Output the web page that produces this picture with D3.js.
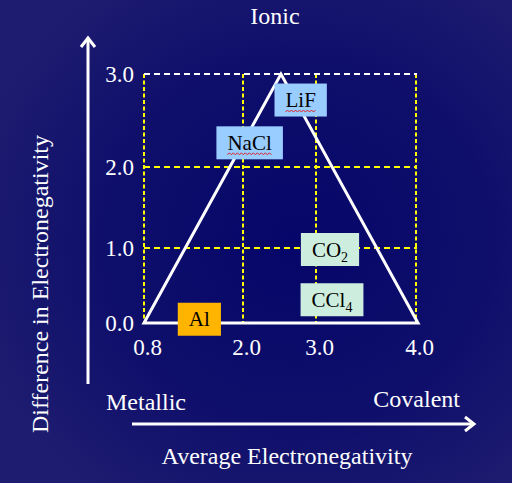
<!DOCTYPE html>
<html>
<head>
<meta charset="utf-8">
<script src="https://cdn.jsdelivr.net/npm/d3@7/dist/d3.min.js"></script>
<style>
  body { margin: 0; background: #10106c; }
  svg { display: block; }
</style>
</head>
<body>
<svg id="chart"></svg>
<script>
// tick values on both axes
const xTicks = [0.8, 2.0, 3.0, 4.0];
const yTicks = [0.0, 1.0, 2.0, 3.0];

// bond triangle corners (avg EN, delta EN)
const triangleX = [0.8, 2.52, 4.02];
const triangleY = [0.0, 3.0, 0.0];

// compounds placed in the triangle
const compoundNames = ['LiF', 'NaCl', 'CO', 'CCl', 'Al'];
const compoundSubs = ['', '', '2', '4', ''];
const compoundX = [2.79, 2.09, 3.14, 3.16, 1.47];
const compoundY = [2.72, 2.26, 0.98, 0.31, 0.05];
const compoundType = ['ionic', 'ionic', 'covalent', 'covalent', 'metallic'];
const misspelled = ['LiF', 'NaCl'];

const width = 512;
const height = 483;
const font = "'Liberation Serif', 'Times New Roman', serif";

const svg = d3.select('#chart')
  .attr('width', width)
  .attr('height', height);

// background
const defs = svg.append('defs');
const grad = defs.append('radialGradient')
  .attr('id', 'bg')
  .attr('cx', '58%')
  .attr('cy', '50%')
  .attr('r', '65%');
grad.append('stop').attr('offset', '0%').attr('stop-color', '#06066a');
grad.append('stop').attr('offset', '55%').attr('stop-color', '#0e0e6b');
grad.append('stop').attr('offset', '100%').attr('stop-color', '#1d1c70');
svg.append('rect')
  .attr('width', width)
  .attr('height', height)
  .attr('fill', 'url(#bg)');

// the grid is unevenly spaced in the slide, so piecewise scales
const xScale = d3.scaleLinear()
  .domain(xTicks)
  .range([144, 243, 316, 416]);
const yScale = d3.scaleLinear()
  .domain(yTicks)
  .range([323, 248, 167, 74]);

const color = d3.scaleOrdinal()
  .domain(['ionic', 'covalent', 'metallic'])
  .range(['#99ccff', '#cdeede', '#ffb400']);

const grid = svg.append('g');

grid.selectAll('.vgrid')
  .data(xTicks)
  .enter().append('line')
  .attr('class', 'vgrid')
  .attr('x1', d => xScale(d))
  .attr('x2', d => xScale(d))
  .attr('y1', yScale(3))
  .attr('y2', yScale(0))
  .attr('stroke', '#ffff00')
  .attr('stroke-width', 2)
  .attr('stroke-dasharray', '4,2.5');

grid.selectAll('.hgrid')
  .data(yTicks.filter(d => d > 0))
  .enter().append('line')
  .attr('class', 'hgrid')
  .attr('x1', xScale(0.8))
  .attr('x2', xScale(4.0) + 1)
  .attr('y1', d => yScale(d))
  .attr('y2', d => yScale(d))
  .attr('stroke', d => (d === 3 ? '#ffffff' : '#ffff00'))
  .attr('stroke-width', 2)
  .attr('stroke-dasharray', '6,4');

// triangle
const line = d3.line()
  .x(d => xScale(d[0]))
  .y(d => yScale(d[1]));

svg.append('path')
  .datum(d3.zip(triangleX, triangleY))
  .attr('fill', 'none')
  .attr('stroke', '#ffffff')
  .attr('stroke-width', 3)
  .attr('stroke-linejoin', 'miter')
  .attr('d', d => `${line(d)}Z`);

// axes (ticks only, no domain)
const yAxis = svg.append('g')
  .attr('transform', `translate(${xScale(0.8)},0)`)
  .call(d3.axisLeft(yScale).tickValues(yTicks).tickFormat(d3.format('.1f')).tickSize(0).tickPadding(10));

const xAxis = svg.append('g')
  .attr('transform', `translate(3,${yScale(0)})`)
  .call(d3.axisBottom(xScale).tickValues(xTicks).tickFormat(d3.format('.1f')).tickSize(0).tickPadding(16));

[xAxis, yAxis].forEach(a => {
  a.select('.domain').remove();
  a.selectAll('text')
    .attr('fill', '#ffffff')
    .style('font-family', font)
    .style('font-size', '23px');
});

// compound labels
const labels = svg.selectAll('.compound')
  .data(compoundNames.map((name, i) => ({
    name, sub: compoundSubs[i], x: compoundX[i], y: compoundY[i], type: compoundType[i],
  })))
  .enter().append('g')
  .attr('class', 'compound')
  .attr('transform', d => `translate(${xScale(d.x)},${yScale(d.y)})`);

labels.append('rect')
  .attr('fill', d => color(d.type));

const texts = labels.append('text')
  .attr('text-anchor', 'middle')
  .attr('y', 7)
  .attr('fill', '#000000')
  .style('font-family', font)
  .style('font-size', '21px');

texts.append('tspan').text(d => d.name);
texts.filter(d => d.sub)
  .append('tspan')
  .attr('dy', 5)
  .style('font-size', '14px')
  .text(d => d.sub);

labels.each(function (d) {
  const g = d3.select(this);
  const bb = g.select('text').node().getBBox();
  const pad = 11;
  g.select('rect')
    .attr('x', bb.x - pad)
    .attr('y', -16.5)
    .attr('width', bb.width + pad * 2)
    .attr('height', 33);
  if (misspelled.includes(d.name)) {
    const pts = d3.range(bb.x, bb.x + bb.width, 2)
      .map((px, i) => [px, 11 + (i % 2 ? -1 : 1)]);
    g.append('path')
      .attr('d', d3.line()(pts))
      .attr('fill', 'none')
      .attr('stroke', '#e02020')
      .attr('stroke-width', 1);
  }
});

// arrows
const arrows = svg.append('g')
  .attr('stroke', '#ffffff')
  .attr('stroke-width', 3)
  .attr('fill', 'none');

arrows.append('line')
  .attr('x1', 88).attr('x2', 88)
  .attr('y1', 384).attr('y2', 39);
arrows.append('path')
  .attr('d', 'M81,47L88,38L95,47');

arrows.append('line')
  .attr('x1', 132).attr('x2', 473)
  .attr('y1', 424).attr('y2', 424);
arrows.append('path')
  .attr('d', 'M465,417L474,424L465,431');

// titles
const title = (txt, x, y, anchor, rotate) => {
  svg.append('text')
    .attr('transform', `translate(${x},${y})${rotate ? ' rotate(-90)' : ''}`)
    .attr('text-anchor', anchor)
    .attr('fill', '#ffffff')
    .style('font-family', font)
    .style('font-size', '24px')
    .text(txt);
};

title('Ionic', 275, 24, 'middle');
title('Metallic', 106, 410, 'start');
title('Covalent', 460, 407, 'end');
title('Average Electronegativity', 287, 464, 'middle');
title('Difference in Electronegativity', 48, 284, 'middle', true);
</script>
</body>
</html>
